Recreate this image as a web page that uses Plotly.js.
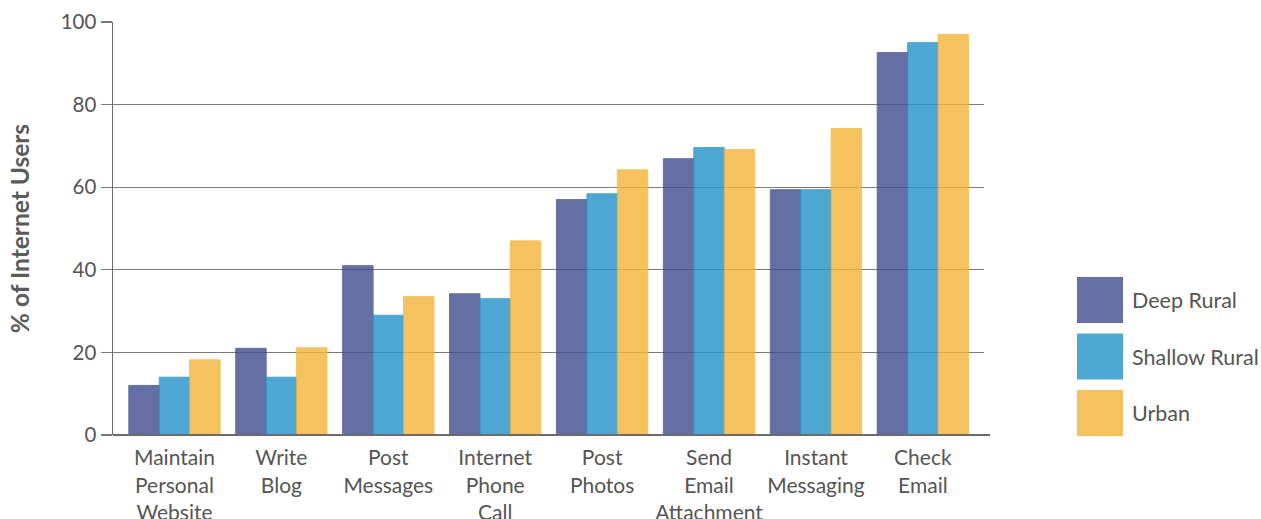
<!DOCTYPE html>
<html>
<head>
<meta charset="utf-8">
<script src="https://cdn.plot.ly/plotly-3.0.1.min.js"></script>
<style>html,body{margin:0;padding:0;background:#fff;}#chart{width:1261px;height:519px;}</style>
</head>
<body>
<div id="chart"></div>
<script>
var categories = ["Maintain Personal Website","Write Blog","Post Messages","Internet Phone Call","Post Photos","Send Email Attachment","Instant Messaging","Check Email"];
var tickLabels = ["Maintain<br>Personal<br>Website","Write<br>Blog","Post<br>Messages","Internet<br>Phone<br>Call","Post<br>Photos","Send<br>Email<br>Attachment","Instant<br>Messaging","Check<br>Email"];
var seriesNames = ["Deep Rural","Shallow Rural","Urban"];
var deepRural    = [12, 21, 41, 34.2, 57, 66.9, 59.4, 92.6];
var shallowRural = [14, 14, 29, 33, 58.4, 69.6, 59.4, 95];
var urban        = [18.2, 21.1, 33.5, 47, 64.2, 69.1, 74.2, 97];
var yTicks = [0, 20, 40, 60, 80, 100];

var baseColors = ["rgb(64,76,141)", "rgb(33,146,199)", "rgb(244,179,56)"];
var barOpacity = 0.8;
var values = [deepRural, shallowRural, urban];

var xIdx = categories.map(function(c, i){ return i; });
var traces = values.map(function(v, k){
  return {
    type: "bar",
    name: seriesNames[k],
    x: xIdx,
    y: v,
    opacity: barOpacity,
    marker: {color: baseColors[k], line: {color: baseColors[k], width: 1}},
    showlegend: false,
    hoverinfo: "skip"
  };
});

var plotL = 113, plotR = 984, plotT = 22, plotB = 435;
var pw = plotR - plotL, ph = plotB - plotT;
function px2x(p){ return (p - plotL) / pw; }
function px2y(p){ return (plotB - p) / ph; }

var shapes = [{
  type: "line", xref: "paper", yref: "paper",
  x0: 0, x1: px2x(990), y0: 0, y1: 0,
  line: {color: "#6b6b6b", width: 2}
}];
var annotations = [];
seriesNames.forEach(function(n, k){
  var top = 277 + 56.5 * k;
  shapes.push({
    type: "rect", xref: "paper", yref: "paper",
    x0: px2x(1077), x1: px2x(1123), y0: px2y(top + 46), y1: px2y(top),
    fillcolor: baseColors[k], opacity: barOpacity, line: {width: 0}
  });
  annotations.push({
    xref: "paper", yref: "paper", x: px2x(1130), y: px2y(top + 23),
    xanchor: "left", yanchor: "middle", showarrow: false,
    text: n, font: {family: "Lato, sans-serif", size: 21.5, color: "#555"}
  });
});

var layout = {
  width: 1261, height: 519,
  margin: {l: plotL, r: 1261 - plotR, t: plotT, b: 519 - plotB, pad: 0},
  paper_bgcolor: "#fff", plot_bgcolor: "#fff",
  font: {family: "Lato, sans-serif", size: 20, color: "#555"},
  barmode: "group", bargap: 0.146, bargroupgap: 0,
  xaxis: {
    range: [-0.575, 7.572],
    tickvals: xIdx, ticktext: tickLabels,
    showgrid: false, zeroline: false, showline: false,
    ticks: "outside", ticklen: 4, tickcolor: "rgba(0,0,0,0)",
    tickfont: {family: "Lato, sans-serif", size: 21, color: "#555"},
    fixedrange: true
  },
  yaxis: {
    range: [0, 100],
    tickvals: yTicks,
    showgrid: true, gridcolor: "#7a7a7a", gridwidth: 1.2,
    zeroline: false,
    showline: true, linecolor: "#6b6b6b", linewidth: 1.5,
    ticks: "outside", ticklen: 11, tickcolor: "#7a7a7a", tickwidth: 1.2,
    tickfont: {family: "Lato, sans-serif", size: 20.5, color: "#555"},
    title: {text: "% of Internet Users", standoff: 24,
            font: {family: "Lato, sans-serif", size: 24.5, color: "#5a5a5a", weight: "bold"}},
    automargin: false,
    fixedrange: true
  },
  shapes: shapes,
  annotations: annotations
};

Plotly.newPlot("chart", traces, layout, {displayModeBar: false, staticPlot: true});
</script>
</body>
</html>
